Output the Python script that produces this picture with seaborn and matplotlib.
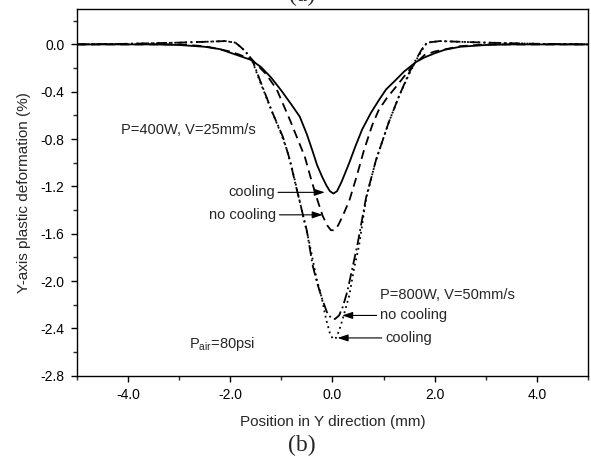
import matplotlib
matplotlib.use("Agg")
import matplotlib.pyplot as plt
import seaborn as sns
import pandas as pd

# --- data ---
# 400W, V=25mm/s, cooling (solid)
x_400c = [-5, -4, -3.5, -3, -2.5, -2.2, -2.0, -1.8, -1.6, -1.4, -1.2, -1.0, -0.8, -0.64, -0.5, -0.39,
          -0.3, -0.2, -0.12, -0.05, 0.02, 0.09, 0.18, 0.33, 0.45, 0.58, 0.75, 0.91, 1.05, 1.24, 1.4, 1.63, 1.8,
          2.0, 2.2, 2.5, 3, 3.5, 4, 5]
y_400c = [0, 0, 0, -0.005, -0.02, -0.04, -0.07, -0.10, -0.13, -0.19, -0.28, -0.39, -0.51, -0.61, -0.76, -0.90,
          -1.02, -1.12, -1.19, -1.24, -1.26, -1.24, -1.16, -1.0, -0.86, -0.72, -0.58, -0.47, -0.38, -0.30, -0.23, -0.15, -0.11,
          -0.075, -0.045, -0.02, -0.005, 0, 0, 0]

# 400W, no cooling (dashed)
x_400n = [-5, -3, -2.5, -2.0, -1.8, -1.57, -1.3, -1.09, -0.83, -0.54, -0.41, -0.29, -0.19, -0.1, -0.03, 0.04,
          0.11, 0.19, 0.33, 0.47, 0.62, 0.78, 0.91, 1.07, 1.24, 1.55, 1.8, 2.0, 2.5, 3, 5]
y_400n = [0, 0, -0.015, -0.06, -0.09, -0.13, -0.25, -0.38, -0.64, -0.95, -1.15, -1.32, -1.45, -1.53, -1.57, -1.57,
          -1.53, -1.46, -1.32, -1.12, -0.89, -0.68, -0.55, -0.45, -0.36, -0.19, -0.09, -0.06, -0.015, 0, 0]

# 800W, V=50mm/s, no cooling (dash-dot)
x_800n = [-5, -4, -3.5, -3, -2.5, -2.1, -1.9, -1.8, -1.7, -1.57, -1.42, -1.17, -0.97, -0.83, -0.74, -0.6,
          -0.5, -0.39, -0.31, -0.21, -0.11, -0.03, 0.05, 0.13, 0.2, 0.29, 0.39, 0.49, 0.66, 0.85, 1.1, 1.3, 1.5,
          1.63, 1.75, 1.85, 2.1, 2.5, 3, 3.5, 4, 5]
y_800n = [0, 0.005, 0.01, 0.015, 0.022, 0.028, 0.015, -0.02, -0.06, -0.13, -0.30, -0.58, -0.78, -0.98, -1.15, -1.40,
          -1.575, -1.86, -2.0, -2.14, -2.26, -2.31, -2.32, -2.29, -2.22, -2.09, -1.89, -1.69, -1.29, -0.98, -0.66, -0.44, -0.24,
          -0.13, -0.04, 0.015, 0.028, 0.022, 0.015, 0.01, 0.005, 0]

# 800W, cooling (dotted)
x_800c = [-5, -4, -3.5, -3, -2.5, -2.1, -1.9, -1.8, -1.7, -1.57, -1.42, -1.2, -1.0, -0.89, -0.75, -0.6,
          -0.45, -0.31, -0.21, -0.12, -0.05, 0.01, 0.07, 0.13, 0.2, 0.33, 0.42, 0.52, 0.66, 0.85, 1.1, 1.3, 1.5,
          1.63, 1.75, 1.85, 2.1, 2.5, 3, 3.5, 4, 5]
y_800c = [0, 0.005, 0.01, 0.015, 0.022, 0.028, 0.015, -0.02, -0.06, -0.14, -0.31, -0.55, -0.76, -0.89, -1.12, -1.40,
          -1.68, -1.98, -2.14, -2.33, -2.44, -2.49, -2.48, -2.42, -2.32, -2.12, -1.90, -1.70, -1.30, -0.98, -0.66, -0.44, -0.25,
          -0.14, -0.05, 0.015, 0.028, 0.022, 0.015, 0.01, 0.005, 0]

x_ticks = [-4.0, -2.0, 0.0, 2.0, 4.0]
y_ticks = [0.0, -0.4, -0.8, -1.2, -1.6, -2.0, -2.4, -2.8]

sns.set_style("ticks")
plt.rcParams['font.family'] = ['Liberation Sans', 'DejaVu Sans']
plt.rcParams['mathtext.default'] = 'regular'

fig = plt.figure(figsize=(5.91, 4.68), dpi=100)
ax = fig.add_axes([0.130, 0.197, 0.865, 0.784])

curves = [
    (x_400c, y_400c, '-'),
    (x_400n, y_400n, (0, (5, 3))),
    (x_800n, y_800n, (0, (6, 2, 1, 2))),
    (x_800c, y_800c, (0, (1, 2))),
]
for xs, ys, ls in curves:
    df = pd.DataFrame({'x': xs, 'y': ys})
    sns.lineplot(data=df, x='x', y='y', ax=ax, color='black', lw=1.3, linestyle=ls, sort=False)

ax.set_xlim(-5, 5)
ax.set_ylim(-2.8, 0.3)
ax.set_xticks(x_ticks)
ax.set_xticklabels([f'{v:.1f}' for v in x_ticks])
ax.set_yticks(y_ticks)
ax.set_yticklabels([f'{v:.1f}' for v in y_ticks])
ax.set_xticks([-5, -3, -1, 1, 3, 5], minor=True)
ax.set_yticks([0.2, -0.2, -0.6, -1.0, -1.4, -1.8, -2.2, -2.6], minor=True)
ax.tick_params(which='major', direction='out', length=4, width=1, labelsize=10, colors='black', pad=5)
ax.tick_params(which='minor', direction='out', length=3, width=1)
for s in ax.spines.values():
    s.set_color('black')
    s.set_linewidth(1)

ax.set_xlabel('Position in Y direction (mm)', fontsize=11, labelpad=9)
ax.set_ylabel('Y-axis plastic deformation (%)', fontsize=11, labelpad=7)

fs = 10.5
arrow = dict(arrowstyle='-|>,head_length=0.6,head_width=0.2', color='black', lw=0.8, shrinkA=0, shrinkB=0)
ax.text(-4.13, -0.72, 'P=400W, V=25mm/s', fontsize=fs, va='center')
ax.annotate('cooling', xy=(-0.15, -1.25), xytext=(-1.13, -1.25), fontsize=fs, ha='right', va='center',
            arrowprops=arrow)
ax.annotate('no cooling', xy=(-0.19, -1.44), xytext=(-1.10, -1.44), fontsize=fs, ha='right', va='center',
            arrowprops=arrow)
ax.text(0.93, -2.12, 'P=800W, V=50mm/s', fontsize=fs, va='center')
ax.annotate('no cooling', xy=(0.19, -2.29), xytext=(0.93, -2.29), fontsize=fs, ha='left', va='center',
            arrowprops=arrow)
ax.annotate('cooling', xy=(0.10, -2.48), xytext=(1.03, -2.48), fontsize=fs, ha='left', va='center',
            arrowprops=arrow)
ax.text(-2.8, -2.53, 'P$_{air}$=80psi', fontsize=fs, va='center')

fig.text(0.511, 0.048, '(b)', fontsize=17, family='Liberation Serif', ha='center', va='center')
fig.text(0.511, 0.988, '(a)', fontsize=17, family='Liberation Serif', ha='center', va='bottom')

fig.savefig('out.png', dpi=100)
